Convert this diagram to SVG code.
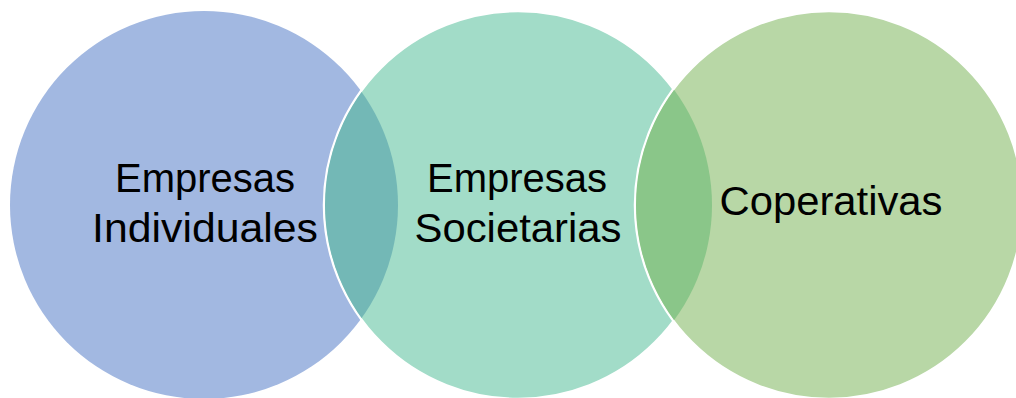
<svg xmlns="http://www.w3.org/2000/svg" width="1016" height="398" viewBox="0 0 1016 398">
  <style>
    .lbl { font-family: "Liberation Sans", Arial, sans-serif; font-size: 40px; fill: #000000; text-anchor: middle; }
    .edge { fill: none; stroke: #ffffff; stroke-width: 2.5; }
  </style>
  <defs>
    <clipPath id="in2"><circle cx="518" cy="205" r="193"/></clipPath>
    <clipPath id="in3"><circle cx="829" cy="205" r="193"/></clipPath>
  </defs>
  <rect x="0" y="0" width="1016" height="398" fill="#ffffff"/>
  <g id="node-individuales">
    <circle cx="204" cy="205" r="194" fill="#A2B8E1"/>
  </g>
  <g id="node-societarias">
    <circle cx="518" cy="205" r="194" fill="#A2DCC8"/>
    <circle class="edge" cx="518" cy="205" r="194"/>
    <circle id="lens-1-2" cx="204" cy="205" r="194" fill="#73B8B6" clip-path="url(#in2)"/>
  </g>
  <g id="node-coperativas">
    <circle cx="829" cy="205" r="194" fill="#B8D7A6"/>
    <circle class="edge" cx="829" cy="205" r="194"/>
    <circle id="lens-2-3" cx="518" cy="205" r="194" fill="#8AC689" clip-path="url(#in3)"/>
  </g>
  <g id="connectors"></g>
  <g id="labels">
    <text class="lbl" x="205" y="192" textLength="180" lengthAdjust="spacingAndGlyphs">Empresas</text>
    <text class="lbl" x="205" y="242" textLength="226" lengthAdjust="spacingAndGlyphs">Individuales</text>
    <text class="lbl" x="517" y="192" textLength="180" lengthAdjust="spacingAndGlyphs">Empresas</text>
    <text class="lbl" x="518" y="242" textLength="207" lengthAdjust="spacingAndGlyphs">Societarias</text>
    <text class="lbl" x="831" y="215" textLength="223" lengthAdjust="spacingAndGlyphs">Coperativas</text>
  </g>
</svg>
